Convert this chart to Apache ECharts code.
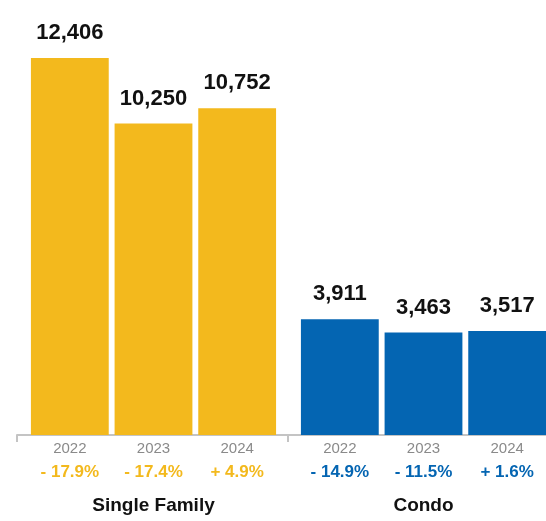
<!DOCTYPE html>
<html lang="en" style="height: 100%">
<head>
	<meta charset="utf-8">
	<title>Sales by year</title>
</head>
<body style='height: 100%; margin: 0'>
<div id='container' style='width: 546px; height: 521px'></div>
<script type='text/javascript' src='https://cdn.jsdelivr.net/npm/echarts@6/dist/echarts.min.js'></script>
<script type="text/javascript">

	// data
	var years = ['2022', '2023', '2024'];
	var singleFamily = [12406, 10250, 10752];
	var singleFamilyChange = ['- 17.9%', '- 17.4%', '+ 4.9%'];
	var condo = [3911, 3463, 3517];
	var condoChange = ['- 14.9%', '- 11.5%', '+ 1.6%'];
	var groupNames = ['Single Family', 'Condo'];

	var gold = '#F3B91D';
	var blue = '#0465B2';
	var font = 'Liberation Sans';

	var dom = document.getElementById('container');
	var myChart = echarts.init(dom, null, { renderer: 'canvas' });

	function catAxis(gridIndex, changes, color, name) {
		return {
			type: 'category',
			gridIndex: gridIndex,
			data: years,
			axisLine: { show: false },
			axisTick: { show: false },
			name: name,
			nameLocation: 'middle',
			nameGap: 61,
			nameTextStyle: { fontFamily: font, fontSize: 19, fontWeight: 'bold', color: '#111' },
			axisLabel: {
				margin: 3,
				formatter: function (v, i) {
					return '{y|' + v + '}\n{p|' + changes[i] + '}';
				},
				rich: {
					y: { fontFamily: font, fontSize: 15, color: '#8a8a8a', lineHeight: 22 },
					p: { fontFamily: font, fontSize: 17, fontWeight: 'bold', color: color, lineHeight: 24 }
				}
			}
		};
	}

	function barSeries(idx, values, color) {
		return {
			type: 'bar',
			xAxisIndex: idx,
			yAxisIndex: idx,
			data: values,
			barCategoryGap: '7%',
			itemStyle: { color: color },
			label: {
				show: true,
				position: 'top',
				distance: 14,
				fontFamily: font,
				fontSize: 22,
				fontWeight: 'bold',
				color: '#111',
				formatter: function (p) { return p.value.toLocaleString('en-US'); }
			}
		};
	}

	var option = {
		animation: false,
		grid: [
			{ left: 28, width: 251, top: 40, bottom: 86 },
			{ left: 298, width: 251, top: 40, bottom: 86, outerBoundsMode: 'none' },
			// baseline with ticks at the group boundaries
			{ left: 17, right: 0, top: 40, bottom: 86 }
		],
		xAxis: [
			catAxis(0, singleFamilyChange, gold, groupNames[0]),
			catAxis(1, condoChange, blue, groupNames[1]),
			{
				type: 'value',
				gridIndex: 2,
				min: 0,
				max: 529 / 271,
				splitLine: { show: false },
				axisLine: { show: true, lineStyle: { color: '#c4c4c4', width: 2 } },
				axisTick: { show: true, length: 7, customValues: [0, 1], lineStyle: { color: '#c4c4c4', width: 2 } },
				axisLabel: { show: false }
			}
		],
		yAxis: [
			{ type: 'value', gridIndex: 0, min: 0, max: 13000, show: false },
			{ type: 'value', gridIndex: 1, min: 0, max: 13360, show: false },
			{ type: 'value', gridIndex: 2, min: 0, max: 1, show: false }
		],
		series: [
			barSeries(0, singleFamily, gold),
			barSeries(1, condo, blue)
		]
	};

	myChart.setOption(option);
	window.addEventListener('resize', myChart.resize);

</script>
</body>
</html>
